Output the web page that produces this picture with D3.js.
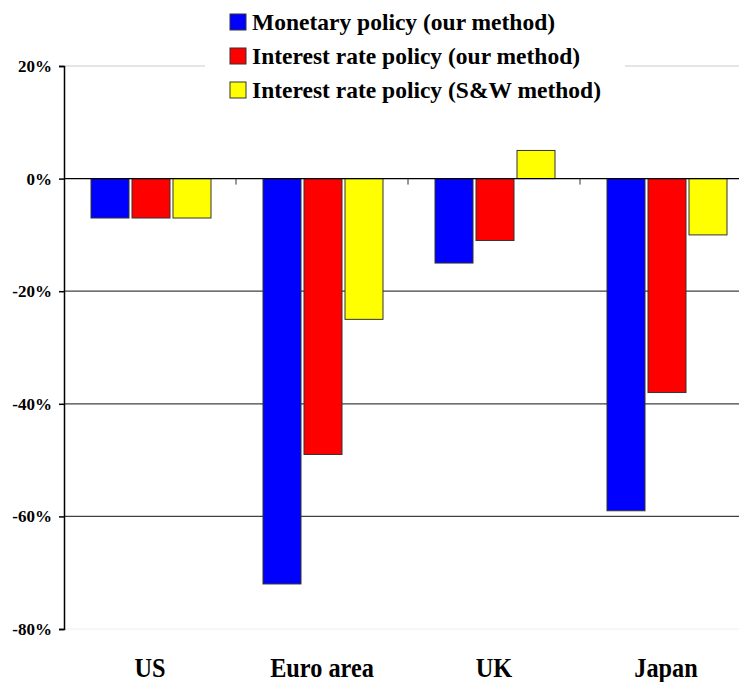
<!DOCTYPE html>
<html>
<head>
<meta charset="utf-8">
<script src="https://cdn.jsdelivr.net/npm/d3@7"></script>
<style>
  body { margin: 0; background: #fff; }
  text { font-family: "Liberation Serif", "Times New Roman", serif; font-weight: bold; }
</style>
</head>
<body>
<div id="chart"></div>
<script>
const categories = ["US", "Euro area", "UK", "Japan"];
const seriesNames = ["Monetary policy (our method)", "Interest rate policy (our method)", "Interest rate policy (S&W method)"];
const monetary = [-7, -72, -15, -59];
const interestOur = [-7, -49, -11, -38];
const interestSW = [-7, -25, 5, -10];
const yTicks = [20, 0, -20, -40, -60, -80];

const colors = ["#0000FF", "#FF0000", "#FFFF00"];
const seriesValues = [monetary, interestOur, interestSW];

const width = 739, height = 682;
const plotLeft = 64, plotTop = 66, plotRight = 752, plotBottom = 629;

const svg = d3.select("#chart").append("svg")
  .attr("width", width)
  .attr("height", height);

const y = d3.scaleLinear().domain([-80, 20]).range([plotBottom, plotTop]);
const x0 = d3.scaleBand().domain(categories).range([plotLeft, plotRight]).paddingInner(0).paddingOuter(0);
const x1 = d3.scaleBand().domain(d3.range(3)).range([25.5, x0.bandwidth() - 23.5]).padding(0);

// gridlines
const gridColor = { "20": "#cccccc", "-20": "#404040", "-40": "#404040", "-60": "#404040", "-80": "#eeeeee" };
svg.append("g").selectAll("line")
  .data(yTicks.filter(t => t !== 0))
  .enter().append("line")
  .attr("x1", plotLeft).attr("x2", width)
  .attr("y1", d => y(d)).attr("y2", d => y(d))
  .attr("stroke", d => gridColor[d])
  .attr("stroke-width", 1.2);

// bars
const groups = svg.append("g").selectAll("g")
  .data(categories)
  .enter().append("g")
  .attr("transform", d => `translate(${x0(d)},0)`);

groups.selectAll("rect")
  .data((d, i) => seriesValues.map((s, k) => ({ k, v: s[i] })))
  .enter().append("rect")
  .attr("x", d => x1(d.k) + 1.5)
  .attr("width", x1.bandwidth() - 3)
  .attr("y", d => y(Math.max(0, d.v)))
  .attr("height", d => Math.abs(y(d.v) - y(0)))
  .attr("fill", d => colors[d.k])
  .attr("stroke", "#333")
  .attr("stroke-width", 1);

// zero line with category ticks
svg.append("line")
  .attr("x1", plotLeft).attr("x2", width)
  .attr("y1", y(0)).attr("y2", y(0))
  .attr("stroke", "#000").attr("stroke-width", 1.2);

svg.append("g").selectAll("line")
  .data(categories.slice(1))
  .enter().append("line")
  .attr("x1", d => x0(d)).attr("x2", d => x0(d))
  .attr("y1", y(0)).attr("y2", y(0) + 6)
  .attr("stroke", "#333").attr("stroke-width", 1);

// y axis
const yAxis = svg.append("g")
  .attr("transform", `translate(${plotLeft},0)`)
  .call(d3.axisLeft(y).tickValues(yTicks).tickSize(5).tickFormat(d => d + "%"));
yAxis.select(".domain").attr("stroke", "#000").attr("stroke-width", 1.5);
yAxis.selectAll(".tick line").attr("stroke", "#000").attr("stroke-width", 1.5);
yAxis.selectAll(".tick text")
  .attr("x", -12)
  .style("font-family", "'Liberation Serif'")
  .style("font-weight", "bold")
  .style("font-size", "17px")
  .attr("fill", "#000");

// category labels
svg.append("g").selectAll("text")
  .data(categories)
  .enter().append("text")
  .attr("transform", d => `translate(${x0(d) + x0.bandwidth() / 2},677) scale(0.9,1)`)
  .attr("text-anchor", "middle")
  .style("font-size", "27px")
  .text(d => d);

// legend
const legend = svg.append("g");
legend.append("rect")
  .attr("x", 205).attr("y", 0)
  .attr("width", 420).attr("height", 104)
  .attr("fill", "#fff");

const items = legend.selectAll("g.item")
  .data(seriesNames)
  .enter().append("g")
  .attr("class", "item")
  .attr("transform", (d, i) => `translate(230, ${14 + i * 34})`);

items.append("rect")
  .attr("width", 16).attr("height", 16)
  .attr("fill", (d, i) => colors[i])
  .attr("stroke", "#333");

items.append("text")
  .attr("x", 22).attr("y", 16)
  .style("font-size", "23.5px")
  .text(d => d);
</script>
</body>
</html>
